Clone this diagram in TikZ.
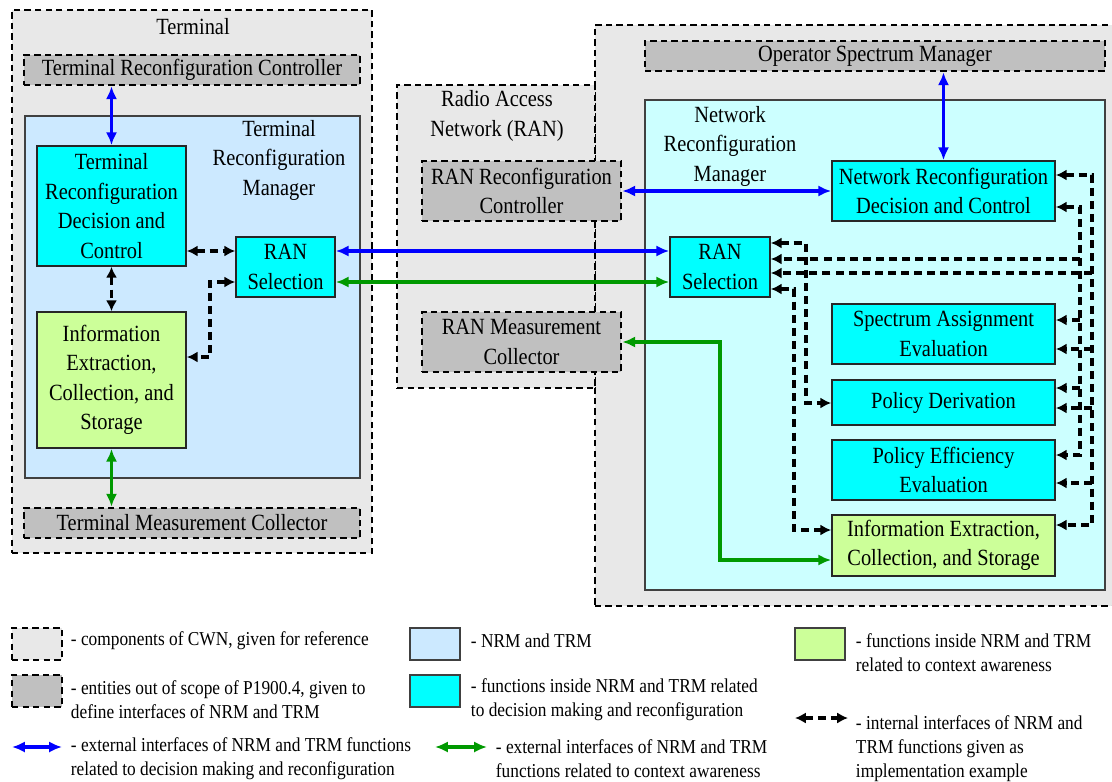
\documentclass[tikz,border=0pt]{standalone}
\usepackage{fontspec}
\setmainfont{Liberation Serif}[FakeStretch=0.88]
\usetikzlibrary{arrows.meta}
\definecolor{cwngray}{HTML}{E8E8E8}
\definecolor{outgray}{HTML}{C0C0C0}
\definecolor{trmblue}{HTML}{CCE9FF}
\definecolor{nrmcyan}{HTML}{CCFFFF}
\definecolor{fncyan}{HTML}{00FFFF}
\definecolor{fngreen}{HTML}{CCFF99}
\definecolor{ifblue}{HTML}{0000FF}
\definecolor{ifgreen}{HTML}{009900}
\tikzset{
	boxfont/.style={font=\fontsize{16.5}{21}\selectfont},
	legfont/.style={font=\fontsize{14}{17}\selectfont},
	cwn/.style={draw=black, fill=cwngray, line width=1.9pt, dash pattern=on 4.5pt off 3pt},
	outscope/.style={draw=black, fill=outgray, line width=1.9pt, dash pattern=on 4.5pt off 3pt, boxfont, align=center, inner sep=1pt},
	manager/.style={draw=black!75, line width=1.2pt},
	decfn/.style={draw=black!85, fill=fncyan, line width=1.2pt, boxfont, align=center, inner sep=1pt},
	ctxfn/.style={draw=black!85, fill=fngreen, line width=1.2pt, boxfont, align=center, inner sep=1pt},
	extblue/.style={draw=ifblue, line width=2.3pt, >={Latex[length=3.2mm,width=2.8mm]}, <->},
	extgreen/.style={draw=ifgreen, line width=2.3pt, >={Latex[length=3.2mm,width=2.8mm]}, <->},
	intf/.style={draw=black, line width=2.2pt, dash pattern=on 5.7pt off 3.6pt, >={Latex[length=2.7mm,width=2.8mm]}, <->},
	intfin/.style={draw=black, line width=2.2pt, dash pattern=on 5.7pt off 3.6pt, >={Latex[length=2.7mm,width=2.8mm]}, ->},
}

\begin{document}
\begin{tikzpicture}[x=0.025cm, y=-0.025cm]
		%%%%% START %%%%%
		\useasboundingbox (0,0) rectangle (1112,782);
		
		% terminal side
		\node[cwn, minimum width=9cm, minimum height=13.575cm] (term) at (192,281.5) {};
		\node[boxfont] (termlbl) at (193,27) {Terminal};
		\node[outscope, minimum width=8.4cm, minimum height=0.75cm] (trc) at (192,70) {Terminal Reconfiguration Controller};
		\node[manager, fill=trmblue, minimum width=8.375cm, minimum height=9.05cm] (trm) at (192.5,297) {};
		\node[boxfont, align=center] (trmlbl) at (279,160) {Terminal\\Reconfiguration\\Manager};
		\node[decfn, minimum width=3.725cm, minimum height=3cm] (trdc) at (111.5,206) {Terminal\\Reconfiguration\\Decision and\\Control};
		\node[decfn, minimum width=2.475cm, minimum height=1.5cm] (trans) at (285.5,267) {RAN\\Selection};
		\node[ctxfn, minimum width=3.725cm, minimum height=3.4cm] (tiecs) at (111.5,380) {Information\\Extraction,\\Collection, and\\Storage};
		\node[outscope, minimum width=8.4cm, minimum height=0.75cm] (tmc) at (192,523) {Terminal Measurement Collector};
		
		% network side
		\node[cwn, minimum width=13.25cm, minimum height=14.525cm] (oper) at (860,315.5) {};
		\node[cwn, minimum width=4.95cm, minimum height=7.575cm] (ran) at (496,236.5) {};
		\node[boxfont, align=center] (ranlbl) at (497,116) {Radio Access\\Network (RAN)};
		\node[outscope, minimum width=4.975cm, minimum height=1.5cm] (ranrc) at (521.5,191) {RAN Reconfiguration\\Controller};
		\node[outscope, minimum width=4.975cm, minimum height=1.5cm] (ranmc) at (521.5,342) {RAN Measurement\\Collector};
		\node[outscope, minimum width=11.5cm, minimum height=0.75cm] (osm) at (875,56) {Operator Spectrum Manager};
		\node[manager, fill=nrmcyan, minimum width=11.5cm, minimum height=12.25cm] (nrm) at (875,345) {};
		\node[boxfont, align=center] (nrmlbl) at (730,146) {Network\\Reconfiguration\\Manager};
		\node[decfn, minimum width=5.575cm, minimum height=1.5cm] (nrdc) at (943.5,191) {Network Reconfiguration\\Decision and Control};
		\node[decfn, minimum width=2.5cm, minimum height=1.5cm] (nrans) at (720,267) {RAN\\Selection};
		\node[decfn, minimum width=5.575cm, minimum height=1.5cm] (sae) at (943.5,334) {Spectrum Assignment\\Evaluation};
		\node[decfn, minimum width=5.575cm, minimum height=1.125cm] (pd) at (943.5,402.5) {Policy Derivation};
		\node[decfn, minimum width=5.575cm, minimum height=1.5cm] (pee) at (943.5,470) {Policy Efficiency\\Evaluation};
		\node[ctxfn, minimum width=5.575cm, minimum height=1.525cm] (niecs) at (943.5,545.5) {Information Extraction,\\Collection, and Storage};
		
		% terminal interfaces
		\draw[extblue] (trc.south -| trdc.north) -- (trdc.north);
		\draw[intf] (trdc.east |- 0,251) -- (trans.west |- 0,251);
		\draw[intf] (trdc.south) -- (tiecs.north);
		\draw[intf] (trans.west |- 0,282) -| (210,357) -- (tiecs.east |- 0,357);
		\draw[extgreen] (tiecs.south) -- (tmc.north -| tiecs.south);
		\draw[extblue] (trans.east |- 0,251) -- (nrans.west |- 0,251);
		\draw[extgreen] (trans.east |- 0,282) -- (nrans.west |- 0,282);
		
		% network interfaces
		\draw[extblue] (osm.south -| nrdc.north) -- (nrdc.north);
		\draw[extblue] (ranrc.east) -- (nrdc.west);
		\draw[extgreen] (ranmc.east) -| (720,560) -- (niecs.west |- 0,560);
		\draw[intf] (nrans.east |- 0,243) -| (806,403) -- (pd.west |- 0,403);
		\draw[intf] (nrans.east |- 0,289) -| (794,530) -- (niecs.west |- 0,530);
		
		\coordinate (busa) at (1080,207);
		\coordinate (busb) at (1092,175);
		\draw[intf] (nrdc.east |- busa) -- (busa) -- (busa |- 0,455) -- (pee.east |- 0,455);
		\draw[intfin] (busa |- 0,259) -- (nrans.east |- 0,259);
		\draw[intfin] (busa |- 0,320) -- (sae.east |- 0,320);
		\draw[intfin] (busa |- 0,388) -- (pd.east |- 0,388);
		\draw[intf] (nrdc.east |- busb) -- (busb) -- (busb |- 0,525) -- (niecs.east |- 0,525);
		\draw[intfin] (busb |- 0,273) -- (nrans.east |- 0,273);
		\draw[intfin] (busb |- 0,349) -- (sae.east |- 0,349);
		\draw[intfin] (busb |- 0,408) -- (pd.east |- 0,408);
		\draw[intfin] (busb |- 0,483) -- (pee.east |- 0,483);
		
		% legend
		\node[cwn, minimum width=1.25cm, minimum height=0.8cm] (lgcwn) at (37,644) {};
		\node[legfont, anchor=west, align=left] (lgcwntxt) at (66,641) {- components of CWN, given for reference};
		\node[cwn, fill=outgray, minimum width=1.25cm, minimum height=0.8cm] (lgout) at (37,691) {};
		\node[legfont, anchor=west, align=left] (lgouttxt) at (66,700) {- entities out of scope of P1900.4, given to\\define interfaces of NRM and TRM};
		\coordinate (lgb1) at (12,747);
		\coordinate (lgb2) at (62,747);
		\draw[extblue] (lgb1) -- (lgb2);
		\node[legfont, anchor=west, align=left] (lgbtxt) at (66,759) {- external interfaces of NRM and TRM functions\\related to decision making and reconfiguration};
		
		\node[manager, fill=trmblue, minimum width=1.25cm, minimum height=0.8cm] (lgmgr) at (435,644) {};
		\node[legfont, anchor=west, align=left] (lgmgrtxt) at (466,641) {- NRM and TRM};
		\node[manager, fill=fncyan, minimum width=1.25cm, minimum height=0.8cm] (lgdec) at (435,691) {};
		\node[legfont, anchor=west, align=left] (lgdectxt) at (466,700) {- functions inside NRM and TRM related\\to decision making and reconfiguration};
		\coordinate (lgg1) at (435,747);
		\coordinate (lgg2) at (487,747);
		\draw[extgreen] (lgg1) -- (lgg2);
		\node[legfont, anchor=west, align=left] (lggtxt) at (491,759) {- external interfaces of NRM and TRM\\functions related to context awareness};
		
		\node[manager, fill=fngreen, minimum width=1.25cm, minimum height=0.8cm] (lgctx) at (820,644) {};
		\node[legfont, anchor=west, align=left] (lgctxtxt) at (851,653) {- functions inside NRM and TRM\\related to context awareness};
		\coordinate (lgi1) at (795,718);
		\coordinate (lgi2) at (848,718);
		\draw[intf] (lgi1) -- (lgi2);
		\node[legfont, anchor=west, align=left] (lgitxt) at (851,749) {- internal interfaces of NRM and\\TRM functions given as\\implementation example};
		
		%%%%% END %%%%%
	\end{tikzpicture}
\end{document}
